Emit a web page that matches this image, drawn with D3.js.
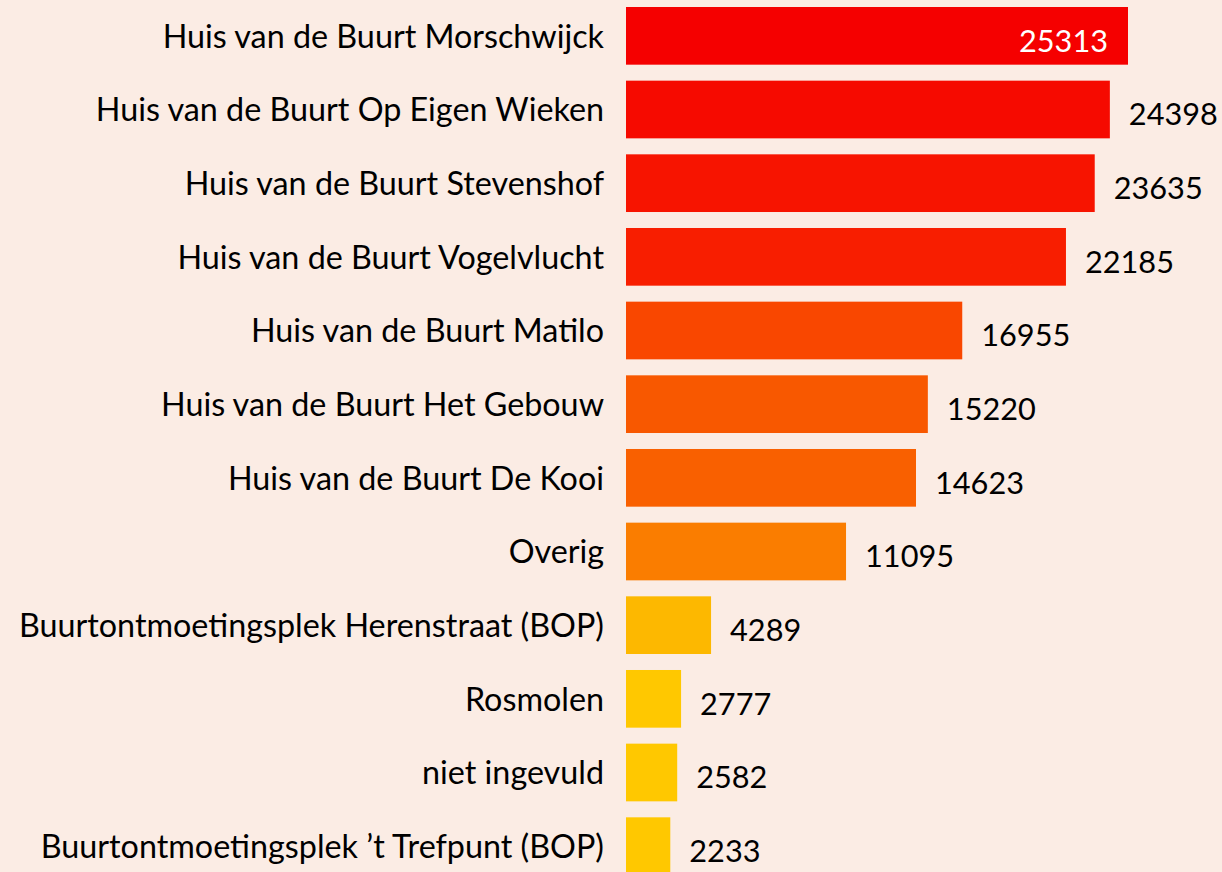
<!DOCTYPE html>
<html>
<head>
<meta charset="utf-8">
<script src="https://cdn.jsdelivr.net/npm/d3@7"></script>
<style>
  html, body { margin: 0; padding: 0; overflow: hidden; background: #fbece4; }
  #chart { width: 1222px; height: 872px; }
  text { font-family: Lato, "Open Sans", sans-serif; }
</style>
</head>
<body>
<div id="chart"></div>
<script>

var categories = [
  "Huis van de Buurt Morschwijck",
  "Huis van de Buurt Op Eigen Wieken",
  "Huis van de Buurt Stevenshof",
  "Huis van de Buurt Vogelvlucht",
  "Huis van de Buurt Matilo",
  "Huis van de Buurt Het Gebouw",
  "Huis van de Buurt De Kooi",
  "Overig",
  "Buurtontmoetingsplek Herenstraat (BOP)",
  "Rosmolen",
  "niet ingevuld",
  "Buurtontmoetingsplek \u2019t Trefpunt (BOP)"
];

var values = [25313, 24398, 23635, 22185, 16955, 15220, 14623, 11095, 4289, 2777, 2582, 2233];

var palette = ["#f50000", "#f60a00", "#f71400", "#f81e00", "#f94700", "#f85800",
               "#f96000", "#fa7d00", "#fdb800", "#ffc800", "#ffc800", "#ffc800"];

var data = categories.map(function(c, i){ return {name: c, value: values[i]}; });

var width = 1222,
    height = 872,
    barLeft = 626,
    labelSize = 32.3,
    valueSize = 30.7;

var svg = d3.select("#chart").append("svg")
  .attr("width", width)
  .attr("height", height);

var xScale = d3.scaleLinear()
  .domain([0, d3.max(values)])
  .range([barLeft, 1128]);

var yScale = d3.scaleBand()
  .domain(categories)
  .range([0, 882])
  .paddingInner(0.217)
  .paddingOuter(0.095);

var color = d3.scaleOrdinal()
  .domain(categories)
  .range(palette);

// bars
svg.append("g")
  .selectAll("rect")
  .data(data)
  .enter()
  .append("rect")
  .attr("x", xScale(0))
  .attr("y", function(d){ return yScale(d.name); })
  .attr("width", function(d){ return xScale(d.value) - xScale(0); })
  .attr("height", yScale.bandwidth())
  .attr("fill", function(d){ return color(d.name); });

// category labels
svg.append("g")
  .selectAll("text")
  .data(data)
  .enter()
  .append("text")
  .attr("x", barLeft - 22)
  .attr("y", function(d){ return yScale(d.name) + yScale.bandwidth() / 2; })
  .attr("dy", "0.37em")
  .attr("text-anchor", "end")
  .attr("font-size", labelSize)
  .attr("fill", "#000")
  .text(function(d){ return d.name; });

// value labels, inside the bar when they would run off the page
var valueLabels = svg.append("g")
  .selectAll("text")
  .data(data)
  .enter()
  .append("text")
  .attr("y", function(d){ return yScale(d.name) + yScale.bandwidth() / 2; })
  .attr("dy", "0.52em")
  .attr("font-size", valueSize)
  .text(function(d){ return d.value; });

valueLabels.each(function(d){
  var t = d3.select(this);
  var w = this.getComputedTextLength();
  if (xScale(d.value) + 19 + w > width) {
    t.attr("x", xScale(d.value) - 20).attr("text-anchor", "end").attr("fill", "#fff");
  } else {
    t.attr("x", xScale(d.value) + 19).attr("text-anchor", "start").attr("fill", "#000");
  }
});

</script>
</body>
</html>
